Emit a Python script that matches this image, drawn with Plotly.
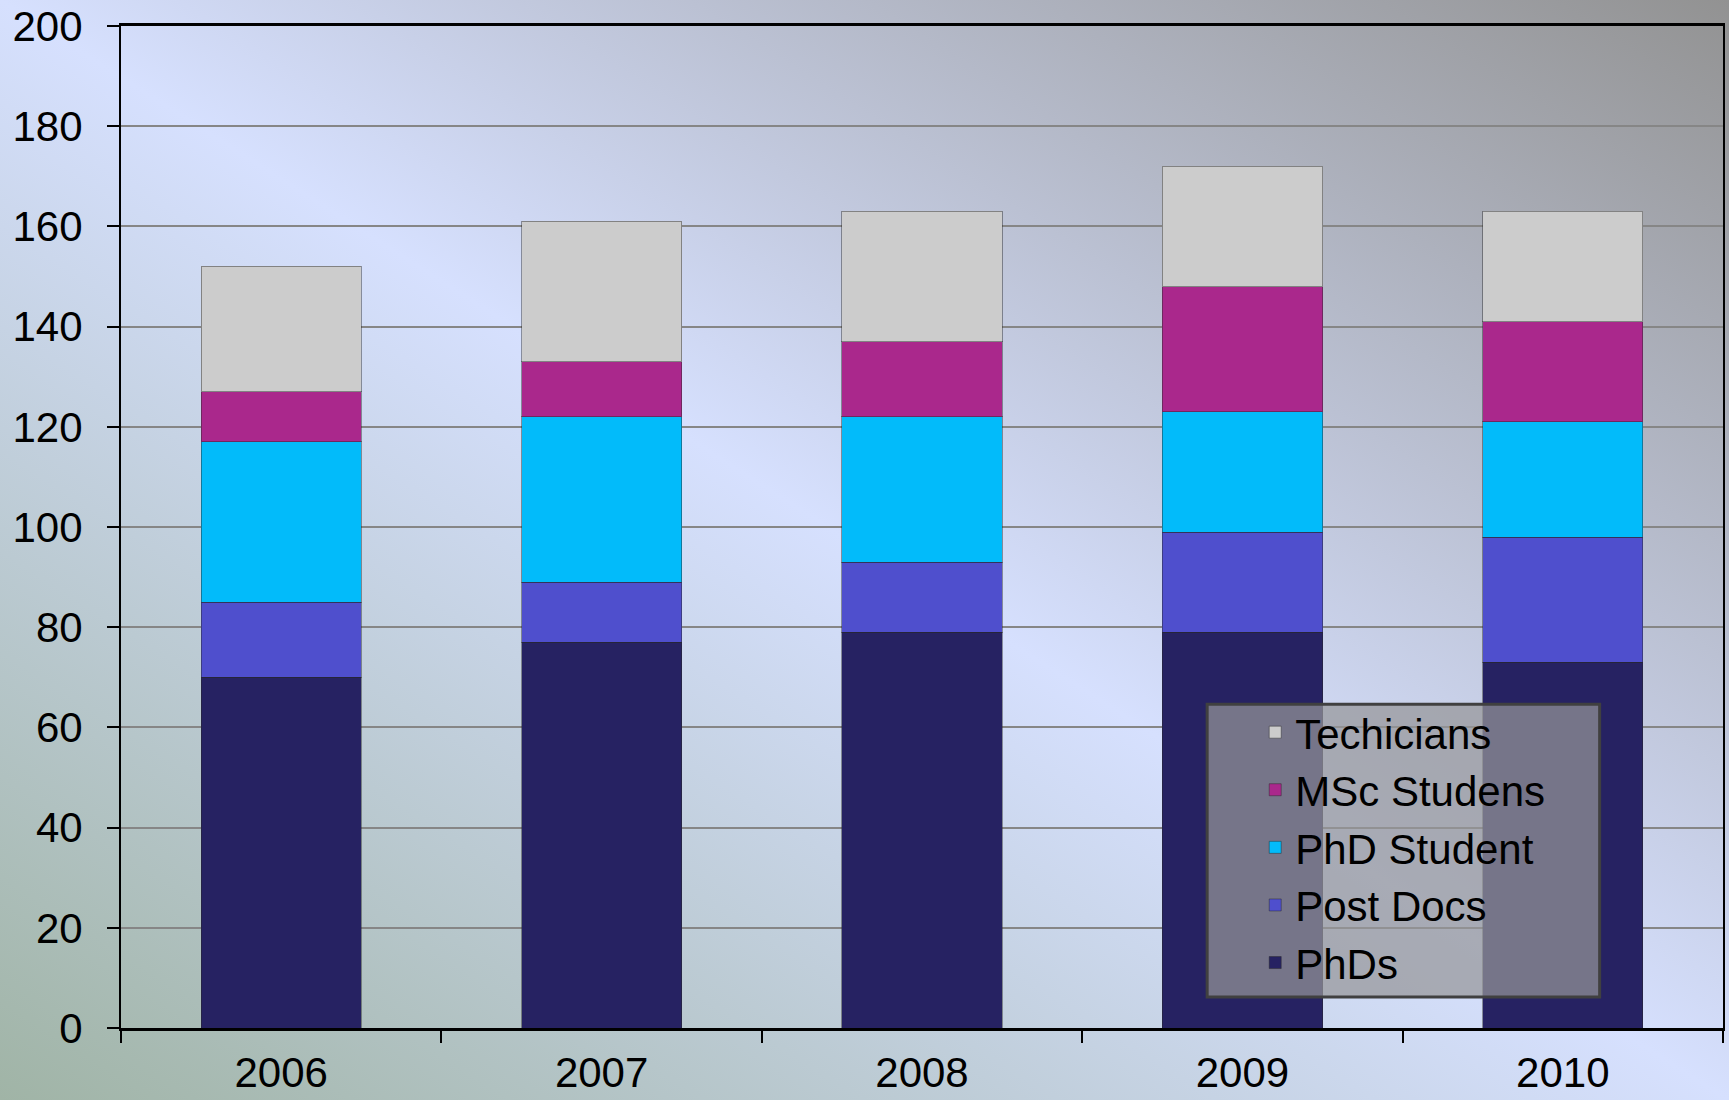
import base64

import plotly.graph_objects as go

# Data
years = ['2006', '2007', '2008', '2009', '2010']
phds = [70, 77, 79, 79, 73]
post_docs = [15, 12, 14, 20, 25]
phd_students = [32, 33, 29, 24, 23]
msc_students = [10, 11, 15, 25, 20]
technicians = [25, 28, 26, 24, 22]

series = [
    ('PhDs', phds, '#262262'),
    ('Post Docs', post_docs, '#4f4fcd'),
    ('PhD Student', phd_students, '#02bbfa'),
    ('MSc Studens', msc_students, '#aa288c'),
    ('Techicians', technicians, '#cccccc'),
]

W, H = 1729, 1100
margin = dict(l=121, r=6, t=26, b=72)
plot_w = W - margin['l'] - margin['r']
plot_h = H - margin['t'] - margin['b']

# Background gradient (PowerPoint style fill)
svg = ('<svg xmlns="http://www.w3.org/2000/svg" width="1729" height="1100" preserveAspectRatio="none">'
       '<defs><linearGradient id="g" x1="0" y1="1" x2="1" y2="0">'
       '<stop offset="0" stop-color="#a0b4a6"/>'
       '<stop offset="0.5" stop-color="#d6e0fe"/>'
       '<stop offset="1" stop-color="#929292"/>'
       '</linearGradient></defs>'
       '<rect width="1729" height="1100" fill="url(#g)"/></svg>')
bg_uri = 'data:image/svg+xml;base64,' + base64.b64encode(svg.encode()).decode()

fig = go.Figure()
for name, values, color in series:
    fig.add_trace(go.Bar(x=years, y=values, name=name,
                         marker=dict(color=color, line=dict(color='rgba(40,40,40,0.45)', width=1))))

fig.add_layout_image(dict(source=bg_uri, xref='paper', yref='paper',
                          x=-margin['l'] / plot_w, y=1 + margin['t'] / plot_h,
                          sizex=W / plot_w, sizey=H / plot_h,
                          xanchor='left', yanchor='top', sizing='stretch', layer='below'))

# Legend box
fig.add_shape(type='rect', xref='paper', yref='paper', x0=0.678, x1=0.923, y0=0.031, y1=0.323,
              fillcolor='rgba(150,150,152,0.72)', line=dict(color='#404040', width=3), layer='above')

fig.update_layout(
    width=W, height=H, margin=margin,
    barmode='stack', bargap=0.5,
    paper_bgcolor='rgba(0,0,0,0)', plot_bgcolor='rgba(0,0,0,0)',
    font=dict(family='Liberation Sans, Arial, sans-serif', size=42, color='black'),
    showlegend=True,
    legend=dict(x=0.708, y=0.329, xanchor='left', yanchor='top', traceorder='reversed',
                bgcolor='rgba(0,0,0,0)', borderwidth=0, font=dict(size=42)),
)
fig.update_xaxes(showline=True, linecolor='black', linewidth=3, mirror=True, automargin=False,
                 ticks='outside', ticklen=12, tickwidth=2, tickcolor='black', tickson='boundaries',
                 ticklabelstandoff=6, showgrid=False)
fig.update_yaxes(range=[0, 200], dtick=20, showline=True, linecolor='black', linewidth=2, mirror=True,
                 automargin=False, ticks='outside', ticklen=12, tickwidth=2, tickcolor='black',
                 showgrid=True, gridcolor='#868686', gridwidth=2, zeroline=False, ticklabelstandoff=16)

fig.write_html('out.html', config={'displayModeBar': False},
               post_script="document.body.style.margin = '0';")
